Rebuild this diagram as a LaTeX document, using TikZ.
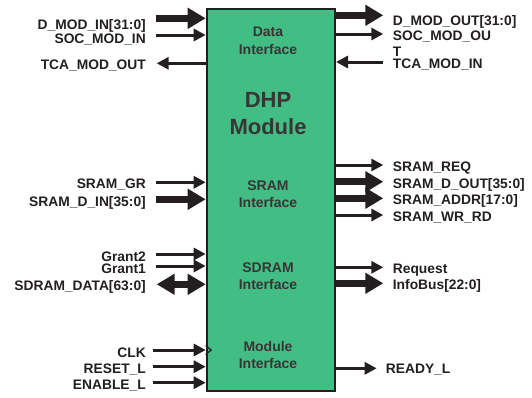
\documentclass[tikz,border=0pt]{standalone}
\usepackage{fontspec}
\setmainfont{Liberation Sans}
\usetikzlibrary{arrows.meta,calc}
\definecolor{boxgreen}{RGB}{66,189,132}
\definecolor{ink}{RGB}{35,31,32}
\begin{document}
\begin{tikzpicture}[x=1pt,y=1pt,
  sig/.style={draw=ink, line width=3pt, -{Triangle[length=12pt,width=12pt]}},
  sigl/.style={draw=ink, line width=3pt, {Triangle[length=12pt,width=12pt]}-},
  bus/.style={draw=ink, line width=7pt, -{Triangle[length=18pt,width=20pt]}},
  busb/.style={draw=ink, line width=7pt, {Triangle[length=18pt,width=20pt]}-{Triangle[length=18pt,width=20pt]}},
  lbl/.style={font=\fontsize{13.8}{15}\selectfont\bfseries, text=ink, inner sep=0pt, text height=9.8pt, text depth=0pt},
  ll/.style={lbl, anchor=east},
  rl/.style={lbl, anchor=west},
  boxtxt/.style={font=\fontsize{14}{17}\selectfont\bfseries, text=ink!90, inner sep=0pt, text height=10pt, text depth=0pt},
  bigtxt/.style={font=\fontsize{22}{27}\selectfont\bfseries, text=ink!90, inner sep=0pt, text height=15.8pt, text depth=0pt},
]
\useasboundingbox (0,0) rectangle (532,-397);
\node[draw=ink, line width=2pt, fill=boxgreen, minimum width=128.3pt, minimum height=382.5pt, inner sep=0pt, anchor=north west] (box) at (205.7,-7.5) {};

% box texts
\node[boxtxt] (t1a) at (268,-31.7) {Data};
\node[boxtxt] (t1b) at (268,-49) {Interface};
\node[bigtxt] (t0a) at (268,-100) {DHP};
\node[bigtxt] (t0b) at (268,-127) {Module};
\node[boxtxt] (t2a) at (268,-185.7) {SRAM};
\node[boxtxt] (t2b) at (268,-202.5) {Interface};
\node[boxtxt] (t3a) at (268,-267) {SDRAM};
\node[boxtxt] (t3b) at (268,-284.3) {Interface};
\node[boxtxt] (t4a) at (268,-346) {Module};
\node[boxtxt] (t4b) at (268,-363.3) {Interface};

% left side coordinates
\coordinate (dmi) at (155.7,-18.3);
\coordinate (smi) at (155.7,-35);
\coordinate (tmo) at (156.7,-63.3);
\coordinate (sgr) at (155.7,-182.3);
\coordinate (sdi) at (155.7,-199.3);
\coordinate (gr2) at (155.7,-254);
\coordinate (gr1) at (155.7,-266);
\coordinate (sdd) at (156.7,-284.3);
\coordinate (clk) at (153.3,-350);
\coordinate (rst) at (153.3,-366.7);
\coordinate (ena) at (153.3,-382.7);

\draw[bus] (dmi) -- (dmi -| box.west);
\draw[sig] (smi) -- (smi -| box.west);
\draw[sigl] (tmo) -- (tmo -| box.west);
\draw[sig] (sgr) -- (sgr -| box.west);
\draw[bus] (sdi) -- (sdi -| box.west);
\draw[sig] (gr2) -- (gr2 -| box.west);
\draw[sig] (gr1) -- (gr1 -| box.west);
\draw[busb] (sdd) -- (sdd -| box.west);
\draw[sig] (clk) -- (clk -| box.west);
\draw[sig] (rst) -- (rst -| box.west);
\draw[sig] (ena) -- (ena -| box.west);
\coordinate (clkin) at (clk -| box.west);
\draw[ink, line width=1.2pt] ($(clkin)+(0,4.5)$) -- ($(clkin)+(5.5,0)$) -- ($(clkin)+(0,-4.5)$);

\node[ll] (l1) at (146,-24.5) {D\_MOD\_IN[31:0]};
\node[ll] (l2) at (146,-38.3) {SOC\_MOD\_IN};
\node[ll] (l3) at (146,-64.3) {TCA\_MOD\_OUT};
\node[ll] (l4) at (146,-184) {SRAM\_GR};
\node[ll] (l5) at (146,-201.7) {SRAM\_D\_IN[35:0]};
\node[ll] (l6) at (146,-256.7) {Grant2};
\node[ll] (l7) at (146,-268.3) {Grant1};
\node[ll] (l8) at (146,-286) {SDRAM\_DATA[63:0]};
\node[ll] (l9) at (146,-352.3) {CLK};
\node[ll] (l10) at (146,-368.3) {RESET\_L};
\node[ll] (l11) at (146,-385) {ENABLE\_L};

% right side coordinates
\coordinate (dmo) at (383.3,-15.3);
\coordinate (smo) at (383.3,-34);
\coordinate (tmi) at (383.3,-62);
\coordinate (srq) at (383.3,-165);
\coordinate (sdo) at (383.3,-181.7);
\coordinate (sad) at (383.3,-198.3);
\coordinate (swr) at (383.3,-215);
\coordinate (req) at (383.3,-267.3);
\coordinate (inf) at (383.3,-283.3);
\coordinate (rdy) at (376.7,-368.3);

\draw[bus] (dmo -| box.east) -- (dmo);
\draw[sig] (smo -| box.east) -- (smo);
\draw[sigl] (tmi -| box.east) -- (tmi);
\draw[sig] (srq -| box.east) -- (srq);
\draw[bus] (sdo -| box.east) -- (sdo);
\draw[bus] (sad -| box.east) -- (sad);
\draw[sig] (swr -| box.east) -- (swr);
\draw[sig] (req -| box.east) -- (req);
\draw[bus] (inf -| box.east) -- (inf);
\draw[sig] (rdy -| box.east) -- (rdy);

\node[rl] (r1) at (392.7,-20.7) {D\_MOD\_OUT[31:0]};
\node[rl] (r2) at (392.7,-36) {SOC\_MOD\_OU};
\node[rl] (r2b) at (392.7,-51.7) {T};
\node[rl] (r3) at (392.7,-63.3) {TCA\_MOD\_IN};
\node[rl] (r4) at (392.7,-166.7) {SRAM\_REQ};
\node[rl] (r5) at (392.7,-183.7) {SRAM\_D\_OUT[35:0]};
\node[rl] (r6) at (392.7,-200) {SRAM\_ADDR[17:0]};
\node[rl] (r7) at (392.7,-216.7) {SRAM\_WR\_RD};
\node[rl] (r8) at (392.7,-268.3) {Request};
\node[rl] (r9) at (392.7,-285) {InfoBus[22:0]};
\node[rl] (r10) at (385.7,-369) {READY\_L};
\end{tikzpicture}
\end{document}
